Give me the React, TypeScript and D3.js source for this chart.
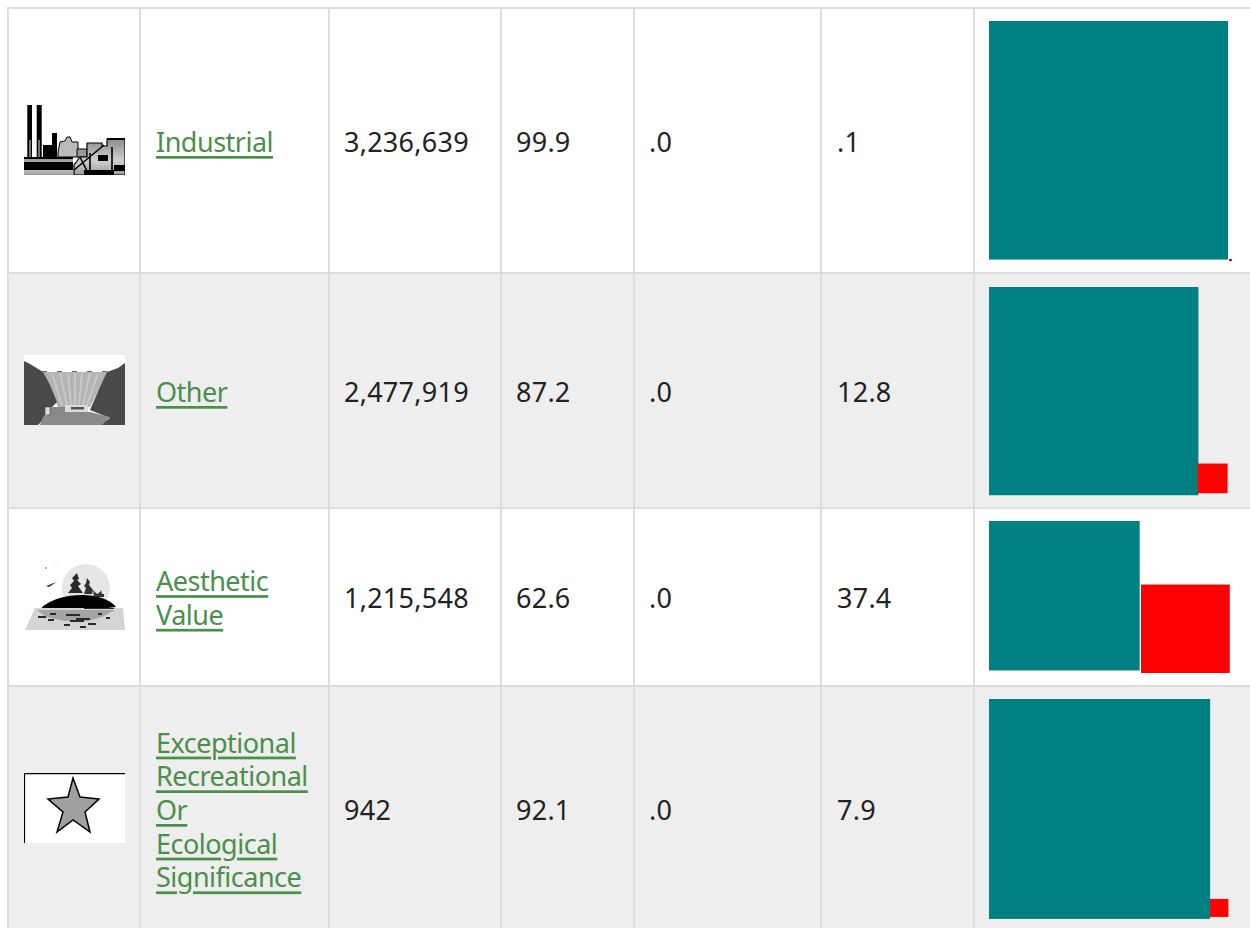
import * as d3 from 'd3';
import React from 'react';

// table contents
const categories = ['Industrial', 'Other', 'Aesthetic Value', 'Exceptional Recreational Or Ecological Significance'];
const nameLines = [['Industrial'], ['Other'], ['Aesthetic', 'Value'], ['Exceptional', 'Recreational', 'Or', 'Ecological', 'Significance']];
const acres = [3236639, 2477919, 1215548, 942];
const goodPct = [99.9, 87.2, 62.6, 92.1];
const threatenedPct = [0, 0, 0, 0];
const impairedPct = [0.1, 12.8, 37.4, 7.9];

const width = 1250;
const height = 928;
const GRID = '#dddddd';
const SHADE = '#eeeeee';
const LINK = '#4a8f4a';
const TEAL = '#008080';
const RED = '#ff0000';
const FONT = '"Noto Sans", sans-serif';

// cell layout
const colEdges = [8, 140, 329, 501, 634, 821, 974];
const rowEdges = [8, 273, 508, 686, 940];
const rowMid = [141, 391, 597, 809];
const iconTop = [105, 355, 561, 773];
const barTop = [21, 287, 521, 699];
// the little red gif sits on its own baseline, it's not quite flush with the teal one
const redDropY = [1.44, -2, 2.5, -2];
const redGapX = [0.24, -0.9, 1.3, -0.1];

const pctFmt = (v: number) => d3.format('.1f')(v).replace(/^0/, '');

const IndustrialIcon = () => (
  <g>
    <defs>
      <linearGradient id="steel" x1="0" y1="0" x2="0" y2="1">
        <stop offset="0" stopColor="#8a8a8a" />
        <stop offset="0.6" stopColor="#d0d0d0" />
        <stop offset="1" stopColor="#9a9a9a" />
      </linearGradient>
    </defs>
    <rect x={0} y={0} width={101} height={70} fill="#fff" />
    <path d="M3.3 0H17.7V52H3.3Z" fill="#000" />
    <path d="M8 0H12.7V52H8Z" fill="#fff" />
    <path d="M5 35H7V52H5ZM14 35H16V52H14Z" fill="#777" />
    <path d="M19 52V40H24V40H28V28H33V52Z" fill="#000" />
    <path d="M34 47L36 37L41 36L43 32L46 32L48 37L54 37V52H34Z" fill="#bbb" stroke="#000" strokeWidth={1} />
    <path d="M53 44H63V52H53Z" fill="#999" stroke="#000" strokeWidth={1} />
    <path d="M63 52V38H78V41H83V34H101V70H50V60L56 52Z" fill="url(#steel)" stroke="#000" strokeWidth={1.2} />
    <path d="M83 33H101V35H83Z" fill="#000" />
    <path d="M0 52H49V70H0Z" fill="url(#steel)" />
    <path d="M0 52H49V54H0ZM0 57H49V65H0ZM60 65H90V70H60ZM90 60H101V66H90ZM74 50H84V56H74Z" fill="#000" />
    <path d="M50 65L80 40M56 52L65 70M66 48V70M88 42V70" stroke="#000" strokeWidth={1.6} fill="none" />
  </g>
);

const DamIcon = () => (
  <g>
    <rect x={0} y={0} width={101} height={70} fill="#fff" />
    <path d="M18 17H84L66 52H34Z" fill="#b4b4b4" />
    <path d="M28 18L38 50M36 18L43 50M44 18L47 50M51 18V50M58 18L55 50M66 18L59 50M74 18L63 50" stroke="#c8c8c8" strokeWidth={2} />
    <path d="M0 6L6 9L19 17L26 30L33 47L28 52H21V60L19 65L14 70H0Z" fill="#484848" />
    <path d="M101 8L94 13L83 17L76 32L66 55L86 63L76 70H101Z" fill="#484848" />
    <path d="M19 62L30 57H66L86 62L78 70H16Z" fill="#8a8a8a" />
    <path d="M21 52H41V60H21Z" fill="#888" />
    <path d="M21 52H26V60H21Z" fill="#ddd" stroke="#444" strokeWidth={0.6} />
    <path d="M41 50H64V57H41Z" fill="#dcdcdc" />
    <path d="M47 52H60V54.5H47Z" fill="#555" />
    <path d="M18 16.5H84" stroke="#666" strokeWidth={1} strokeDasharray="5 10" />
  </g>
);

const IslandIcon = () => (
  <g>
    <circle cx={62} cy={27} r={24} fill="#e6e6e6" />
    <path d="M1 69L11 47H99L101 69Z" fill="#d4d4d4" />
    <path d="M13 49H91L78 56L64 60L40 60L22 56Z" fill="#a4a4a4" />
    <path d="M18 46C28 38 42 34 58 34C72 34 86 38 92 46L84 47H18Z" fill="#000" />
    <path d="M53 12L55 18L53 19L57 23L54 25L59 32H44L48 27L46 24L50 20L48 17L51 14Z" fill="#2a2a2a" />
    <path d="M63 17L66 21L65 24L69 29L68 33H60L62 27L60 25L62 22Z" fill="#333" />
    <path d="M69 29L73 33L76 31L77 29L78 33H80V36H70Z" fill="#333" />
    <path d="M22 25L25 24L27 23L33 21L28 24L25 26Z" fill="#333" />
    <circle cx={22} cy={7} r={1} fill="#999" />
    <circle cx={32} cy={4} r={0.7} fill="#ccc" />
    <path d="M60 47H90V48H60ZM14 55H22V57H14ZM24 58H30V60H24ZM42 53H56V55H42ZM46 59H60V61H46ZM26 52H32V54H26ZM52 57H66V59H52ZM74 52H78V54H74ZM40 63H46V65H40ZM56 65H62V67H56ZM64 62H72V64H64ZM82 56H86V58H82Z" fill="#2a2a2a" />
  </g>
);

const StarIcon = () => (
  <g>
    <rect x={0} y={0} width={101} height={70} fill="#fff" />
    <path d="M0 0.6H101M0.5 0V70" stroke="#000" strokeWidth={1.2} fill="none" />
    <path d="M49 5L56 24L75 26L61 39L66 59L49 47L33 59L39 39L24 26L44 24Z" fill="#a0a0a0" stroke="#000" strokeWidth={1.5} />
  </g>
);

const icons = [IndustrialIcon, DamIcon, IslandIcon, StarIcon];

const App = () => {
  // bar side grows with the percentage
  const side = d3.scaleLinear().domain([0, 100]).range([0, 238.8]);
  const barLeft = colEdges[6] + 15;
  const textX = colEdges.map((e) => e + 16);

  const cellText = {
    fontFamily: FONT,
    fontSize: 27,
    fill: '#222',
    dominantBaseline: 'central',
    letterSpacing: 0.25,
  } as React.CSSProperties;
  const linkText = { ...cellText, letterSpacing: -0.5 };

  return (
    <svg
      width={width}
      height={height}
      style={{ position: 'absolute', left: 0, top: 0, display: 'block', background: '#fff' }}
    >
      <defs>
        {/* the originals are small scaled-up gifs, so soften the edges a bit */}
        <filter id="soft" x="0" y="0" width="1" height="1">
          <feGaussianBlur stdDeviation="0.35" />
        </filter>
      </defs>
      {categories.map((c, i) =>
        i % 2 === 1 ? (
          <rect key={c} x={colEdges[0]} y={rowEdges[i]} width={width - colEdges[0]} height={rowEdges[i + 1] - rowEdges[i]} fill={SHADE} />
        ) : null,
      )}
      {rowEdges.slice(0, 4).map((y) => (
        <rect key={y} x={colEdges[0] - 1} y={y - 1} width={width} height={2} fill={GRID} />
      ))}
      {colEdges.map((x) => (
        <rect key={x} x={x - 1} y={7} width={2} height={height} fill={GRID} />
      ))}

      {categories.map((c, i) => {
        const Icon = icons[i];
        const lines = nameLines[i];
        const lh = 33.7;
        const y0 = rowMid[i] - ((lines.length - 1) * lh) / 2;
        const g = side(goodPct[i]);
        const r = side(impairedPct[i]);
        // the teal gif comes out a pixel wider than tall, and the red one never drops below 3x2
        const tealW = Math.min(g + 1.2, 239);
        const redW = Math.max(r - 0.5, 3);
        const redH = Math.max(r - 0.9, 2);
        return (
          <g key={c}>
            <g transform={`translate(24,${iconTop[i]})`} filter="url(#soft)">
              <Icon />
            </g>
            <text style={linkText}>
              {lines.map((l, k) => (
                <tspan key={l} x={textX[1]} y={y0 + k * lh} fill={LINK} textDecoration="underline">
                  {l}
                </tspan>
              ))}
            </text>
            <text x={textX[2] - 1} y={rowMid[i]} style={cellText}>
              {d3.format(',')(acres[i])}
            </text>
            <text x={textX[3] - 1} y={rowMid[i]} style={cellText}>
              {pctFmt(goodPct[i])}
            </text>
            <text x={textX[4] - 1} y={rowMid[i]} style={cellText}>
              {pctFmt(threatenedPct[i])}
            </text>
            <text x={textX[5]} y={rowMid[i]} style={cellText}>
              {pctFmt(impairedPct[i])}
            </text>
            <rect x={barLeft} y={barTop[i]} width={tealW} height={g} fill={TEAL} />
            <rect
              x={barLeft + g + 1.2 + redGapX[i]}
              y={barTop[i] + g + redDropY[i] - redH}
              width={redW}
              height={redH}
              fill={RED}
            />
          </g>
        );
      })}
    </svg>
  );
};

export default App;
